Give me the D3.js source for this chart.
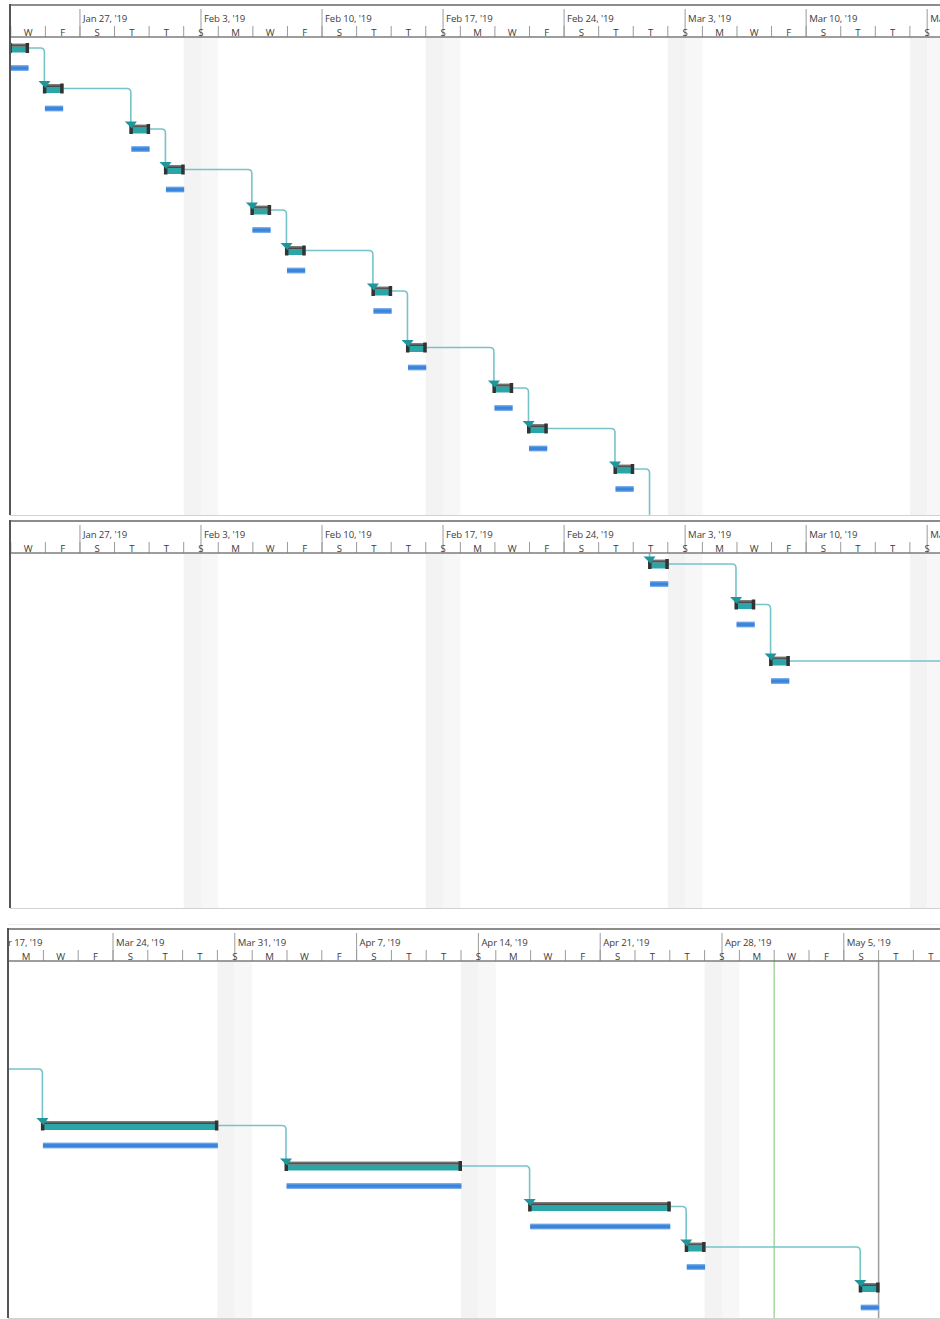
<!DOCTYPE html>
<html>
<head>
<meta charset="utf-8">
<script src="https://cdn.jsdelivr.net/npm/d3@7"></script>
<style>
  html, body { margin: 0; padding: 0; background: #fff; }
  svg { display: block; font-family: "Open Sans", "Noto Sans", sans-serif; }
</style>
</head>
<body>
<div id="gantt"></div>
<script>
// task data (finish is the day after the last working day)
const taskStart = ["2019-01-23", "2019-01-25", "2019-01-30", "2019-02-01", "2019-02-06",
  "2019-02-08", "2019-02-13", "2019-02-15", "2019-02-20", "2019-02-22", "2019-02-27",
  "2019-03-01", "2019-03-06", "2019-03-08", "2019-03-20", "2019-04-03", "2019-04-17",
  "2019-04-26", "2019-05-06"];
const taskFinish = ["2019-01-24", "2019-01-26", "2019-01-31", "2019-02-02", "2019-02-07",
  "2019-02-09", "2019-02-14", "2019-02-16", "2019-02-21", "2019-02-23", "2019-02-28",
  "2019-03-02", "2019-03-07", "2019-03-09", "2019-03-30", "2019-04-13", "2019-04-25",
  "2019-04-27", "2019-05-07"];
// number of wrapped lines of each task name (drives row height)
const taskNameLines = [2, 2, 2, 2, 2, 2, 3, 2, 2, 2, 3, 2, 3, 3, 2, 2, 2, 2, 2];
// weekends drawn as nonworking time (Saturday dates)
const shadedWeekends = ["2019-01-19", "2019-02-02", "2019-02-16", "2019-03-02", "2019-03-16",
  "2019-03-30", "2019-04-13", "2019-04-27", "2019-05-11"];
const currentDate = "2019-05-01";
const finishLine = "2019-05-07";
const dayLetters = ["S", "M", "T", "W", "T", "F", "S"];
const months = ["Jan", "Feb", "Mar", "Apr", "May", "Jun"];

const parse = d3.utcParse("%Y-%m-%d");
const DAY = 864e5;
const tasks = taskStart.map((s, i) => ({
  start: parse(s),
  finish: parse(taskFinish[i]),
  lines: taskNameLines[i],
}));
const rowH = (t) => 8.5 + 16 * t.lines;

const panels = [
  { top: 5, head: 37, bottom: 515, left: 10, from: "2019-01-23", x0: 10.8, pxDay: 17.29, firstRow: 0 },
  { top: 521, head: 553, bottom: 908, left: 10, from: "2019-01-23", x0: 10.8, pxDay: 17.29, firstRow: 11 },
  { top: 929, head: 961, bottom: 1318, left: 8, from: "2019-03-18", x0: 8.6, pxDay: 17.4, firstRow: 11, markers: true },
];

const W = 940, H = 1319;
const svg = d3.select("#gantt").append("svg").attr("width", W).attr("height", H);
svg.append("rect").attr("width", W).attr("height", H).attr("fill", "#fff");

const defs = svg.append("defs");
const grad = defs.append("linearGradient").attr("id", "baseGrad")
  .attr("x1", 0).attr("x2", 0).attr("y1", 0).attr("y2", 1);
grad.append("stop").attr("offset", "0%").attr("stop-color", "#8fbcee");
grad.append("stop").attr("offset", "35%").attr("stop-color", "#3a84dc");
grad.append("stop").attr("offset", "70%").attr("stop-color", "#3a84dc");
grad.append("stop").attr("offset", "100%").attr("stop-color", "#8fbcee");
const barGrad = defs.append("linearGradient").attr("id", "progGrad")
  .attr("x1", 0).attr("x2", 0).attr("y1", 0).attr("y2", 1);
barGrad.append("stop").attr("offset", "0%").attr("stop-color", "#8a8a8a");
barGrad.append("stop").attr("offset", "100%").attr("stop-color", "#3b3b3b");

const gridDays = d3.utcDay.every(1);
const anchor = parse("2019-01-23");

panels.forEach((p, pi) => {
  const from = parse(p.from);
  const to = new Date(+from + 60 * DAY);
  const x = d3.scaleUtc().domain([from, to]).range([p.x0, p.x0 + 60 * p.pxDay]);

  // row tops
  const tops = [];
  let acc = p.head;
  for (let i = p.firstRow; i < tasks.length; i++) { tops[i] = acc; acc += rowH(tasks[i]); }
  acc = p.head;
  for (let i = p.firstRow - 1; i >= 0; i--) { acc -= rowH(tasks[i]); tops[i] = acc; }

  const g = svg.append("g");
  const clipBody = defs.append("clipPath").attr("id", `body${pi}`);
  clipBody.append("rect").attr("x", p.left).attr("y", p.head).attr("width", W - p.left).attr("height", p.bottom - p.head);
  const clipHead = defs.append("clipPath").attr("id", `head${pi}`);
  clipHead.append("rect").attr("x", p.left).attr("y", p.top).attr("width", W - p.left).attr("height", p.head - p.top);

  // ---- body
  const body = g.append("g").attr("clip-path", `url(#body${pi})`);
  shadedWeekends.map(parse).forEach((sat) => {
    body.append("rect")
      .attr("x", x(sat)).attr("y", p.head)
      .attr("width", x(new Date(+sat + DAY)) - x(sat)).attr("height", p.bottom - p.head)
      .attr("fill", "#f3f3f3");
    body.append("rect")
      .attr("x", x(new Date(+sat + DAY))).attr("y", p.head)
      .attr("width", x(new Date(+sat + 2 * DAY)) - x(new Date(+sat + DAY))).attr("height", p.bottom - p.head)
      .attr("fill", "#f7f7f7");
  });

  if (p.markers) {
    body.append("line")
      .attr("x1", x(parse(currentDate))).attr("x2", x(parse(currentDate)))
      .attr("y1", p.head).attr("y2", p.bottom)
      .attr("stroke", "#a6d5a0").attr("stroke-width", 1.5);
    body.append("line")
      .attr("x1", x(parse(finishLine))).attr("x2", x(parse(finishLine)))
      .attr("y1", p.head).attr("y2", p.bottom)
      .attr("stroke", "#9c9c9c").attr("stroke-width", 1.5);
  }

  // links
  const r = 4;
  tasks.slice(0, -1).forEach((t, i) => {
    const n = tasks[i + 1];
    const x1 = x(t.finish) + 1, y1 = tops[i] + 11;
    const xs = x(n.start) - 1, y2 = tops[i + 1] + 6;
    const path = d3.path();
    path.moveTo(x1, y1);
    path.lineTo(xs - r, y1);
    path.quadraticCurveTo(xs, y1, xs, y1 + r);
    path.lineTo(xs, y2);
    body.append("path").attr("d", path.toString())
      .attr("fill", "none").attr("stroke", "#76c4c9").attr("stroke-width", 1.6);
  });

  // baselines
  body.selectAll(".base").data(tasks).enter().append("rect")
    .attr("x", (d) => x(d.start) - 0.5)
    .attr("y", (d, i) => tops[i] + 28)
    .attr("width", (d) => x(d.finish) - x(d.start) + 1)
    .attr("height", 6)
    .attr("fill", "url(#baseGrad)");

  // task bars
  const bars = body.selectAll(".bar").data(tasks).enter().append("g");
  bars.append("rect")
    .attr("x", (d) => x(d.start) - 1.5)
    .attr("y", (d, i) => tops[i] + 9.5)
    .attr("width", (d) => x(d.finish) - x(d.start) + 2)
    .attr("height", 6)
    .attr("fill", "#2aa5a8");
  bars.append("rect")
    .attr("x", (d) => x(d.start) - 1.5)
    .attr("y", (d, i) => tops[i] + 6.5)
    .attr("width", (d) => x(d.finish) - x(d.start) + 2)
    .attr("height", 3)
    .attr("fill", "url(#progGrad)");
  bars.append("rect")
    .attr("x", (d) => x(d.start) - 2.5)
    .attr("y", (d, i) => tops[i] + 6)
    .attr("width", 3.5).attr("height", 10)
    .attr("fill", "#333");
  bars.append("rect")
    .attr("x", (d) => x(d.finish) - 2.5)
    .attr("y", (d, i) => tops[i] + 6)
    .attr("width", 3.5).attr("height", 10)
    .attr("fill", "#333");
  // arrow heads
  bars.filter((d, i) => i > 0).append("path")
    .attr("d", (d) => {
      const i = tasks.indexOf(d);
      const xs = x(d.start) - 1, t = tops[i];
      return `M${xs - 6},${t + 3.5}L${xs + 6},${t + 3.5}L${xs + 1},${t + 10.5}Z`;
    })
    .attr("fill", "#1e969b");

  // ---- header
  const head = g.append("g").attr("clip-path", `url(#head${pi})`);
  head.append("rect").attr("x", p.left).attr("y", p.top)
    .attr("width", W - p.left).attr("height", p.head - p.top).attr("fill", "#fff");

  const days = gridDays.range(new Date(+from - 14 * DAY), to);
  const weeks = days.filter((d) => d.getUTCDay() === 0 && x(d) > p.left - 40 && x(d) < W);
  const cells = days.filter((d) => Math.round((d - anchor) / DAY) % 2 === 0 &&
    x(d) + 2 * p.pxDay > p.left && x(d) < W);

  head.selectAll(".maj").data(weeks).enter().append("line")
    .attr("x1", (d) => x(d)).attr("x2", (d) => x(d))
    .attr("y1", p.top + 4).attr("y2", p.head)
    .attr("stroke", "#9a9a9a").attr("stroke-width", 1);
  head.selectAll(".majt").data(weeks).enter().append("text")
    .attr("x", (d) => x(d) + 3)
    .attr("y", p.top + 16.5)
    .attr("font-size", 9.6)
    .attr("letter-spacing", -0.1)
    .attr("fill", "#3c3c3c")
    .text((d) => `${months[d.getUTCMonth()]} ${d.getUTCDate()}, '19`);
  head.selectAll(".min").data(cells).enter().append("line")
    .attr("x1", (d) => x(d)).attr("x2", (d) => x(d))
    .attr("y1", p.top + 21).attr("y2", p.head)
    .attr("stroke", "#9a9a9a").attr("stroke-width", 1);
  head.selectAll(".mint")
    .data(cells.filter((d) => x(d) + p.pxDay > p.left + 4 && x(d) + p.pxDay < W))
    .enter().append("text")
    .attr("x", (d) => x(d) + p.pxDay)
    .attr("y", p.top + 30.5)
    .attr("text-anchor", "middle")
    .attr("font-size", 9.6)
    .attr("fill", "#3c3c3c")
    .text((d) => dayLetters[d.getUTCDay()]);

  // ---- frame
  g.append("line").attr("x1", p.left).attr("x2", W).attr("y1", p.top).attr("y2", p.top)
    .attr("stroke", "#8c8c8c").attr("stroke-width", 2);
  g.append("line").attr("x1", p.left).attr("x2", W).attr("y1", p.head).attr("y2", p.head)
    .attr("stroke", "#7d7d7d").attr("stroke-width", 1.5);
  g.append("line").attr("x1", p.left).attr("x2", W).attr("y1", p.bottom + 0.5).attr("y2", p.bottom + 0.5)
    .attr("stroke", "#d2d2d2").attr("stroke-width", 1);
  g.append("line").attr("x1", p.left).attr("x2", p.left).attr("y1", p.top - 1).attr("y2", p.bottom)
    .attr("stroke", "#555").attr("stroke-width", 2);
});

// faint separator between the 2nd and 3rd screenshot
svg.append("line").attr("x1", 8).attr("x2", W).attr("y1", 924.5).attr("y2", 924.5)
  .attr("stroke", "#ececec").attr("stroke-width", 1);
</script>
</body>
</html>
